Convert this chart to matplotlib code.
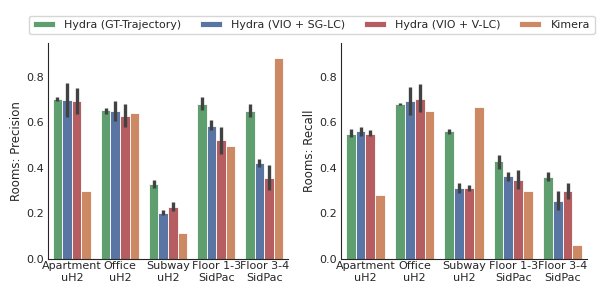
import numpy as np
import matplotlib
matplotlib.use("Agg")
import matplotlib.pyplot as plt
import seaborn as sns

sns.set_style("white")
plt.rcParams['font.family'] = ['DejaVu Sans']

scenes = ["Apartment\nuH2", "Office\nuH2", "Subway\nuH2", "Floor 1-3\nSidPac", "Floor 3-4\nSidPac"]
methods = ["Hydra (GT-Trajectory)", "Hydra (VIO + SG-LC)", "Hydra (VIO + V-LC)", "Kimera"]

# precision means and error ranges (low, high); Kimera has no error bar
prec_gt = [0.703, 0.653, 0.329, 0.682, 0.651]
prec_gt_err = [(0.695, 0.711), (0.639, 0.666), (0.311, 0.347), (0.653, 0.712), (0.622, 0.681)]
prec_sg = [0.697, 0.651, 0.203, 0.585, 0.421]
prec_sg_err = [(0.622, 0.776), (0.607, 0.696), (0.191, 0.215), (0.566, 0.612), (0.406, 0.441)]
prec_vlc = [0.694, 0.629, 0.228, 0.521, 0.357]
prec_vlc_err = [(0.638, 0.750), (0.579, 0.680), (0.210, 0.249), (0.462, 0.582), (0.303, 0.413)]
prec_kimera = [0.296, 0.641, 0.113, 0.496, 0.882]

rec_gt = [0.551, 0.682, 0.562, 0.429, 0.360]
rec_gt_err = [(0.535, 0.570), (0.678, 0.687), (0.551, 0.571), (0.397, 0.456), (0.341, 0.381)]
rec_sg = [0.562, 0.694, 0.312, 0.362, 0.256]
rec_sg_err = [(0.541, 0.582), (0.631, 0.757), (0.291, 0.332), (0.341, 0.382), (0.215, 0.300)]
rec_vlc = [0.551, 0.704, 0.312, 0.347, 0.299]
rec_vlc_err = [(0.541, 0.565), (0.644, 0.769), (0.300, 0.326), (0.307, 0.391), (0.262, 0.332)]
rec_kimera = [0.279, 0.649, 0.669, 0.297, 0.059]

deep = sns.color_palette("deep")
colors = [sns.desaturate(c, 0.75) for c in (deep[2], deep[0], deep[3], deep[1])]

fig = plt.figure(figsize=(5.98, 2.99), dpi=100)
ax1 = fig.add_axes([0.080, 0.135, 0.402, 0.721])
ax2 = fig.add_axes([0.570, 0.135, 0.412, 0.721])


def draw(ax, series, errs, ylabel):
    x = np.arange(len(scenes))
    w = 0.2
    for i, (vals, col) in enumerate(zip(series, colors)):
        pos = x - 0.3 + i * w
        ax.bar(pos, vals, w, color=col, edgecolor='white', linewidth=0.6,
               label=methods[i])
        if i < len(errs):
            lo = [e[0] for e in errs[i]]
            hi = [e[1] for e in errs[i]]
            ax.vlines(pos, lo, hi, color='.26', linewidth=2.4, zorder=3)
    ax.set_xticks(x)
    ax.set_xticklabels(scenes, fontsize=8)
    ax.set_xlim(-0.5, len(scenes) - 0.5)
    ax.set_ylim(0, 0.95)
    ax.set_yticks([0.0, 0.2, 0.4, 0.6, 0.8])
    ax.tick_params(axis='y', labelsize=8, length=0, pad=3)
    ax.tick_params(axis='x', length=0, pad=2)
    ax.set_ylabel(ylabel, fontsize=8.5, labelpad=2)
    sns.despine(ax=ax)


draw(ax1, [prec_gt, prec_sg, prec_vlc, prec_kimera],
     [prec_gt_err, prec_sg_err, prec_vlc_err], "Rooms: Precision")
draw(ax2, [rec_gt, rec_sg, rec_vlc, rec_kimera],
     [rec_gt_err, rec_sg_err, rec_vlc_err], "Rooms: Recall")

handles, labels = ax1.get_legend_handles_labels()
fig.legend(handles, labels, loc='upper center', ncol=4, fontsize=7.9,
           bbox_to_anchor=(0.521, 0.966), handlelength=2.0, handleheight=0.55,
           handletextpad=0.85, columnspacing=1.7, borderpad=0.4, frameon=True)

fig.savefig("out.png", dpi=100)
